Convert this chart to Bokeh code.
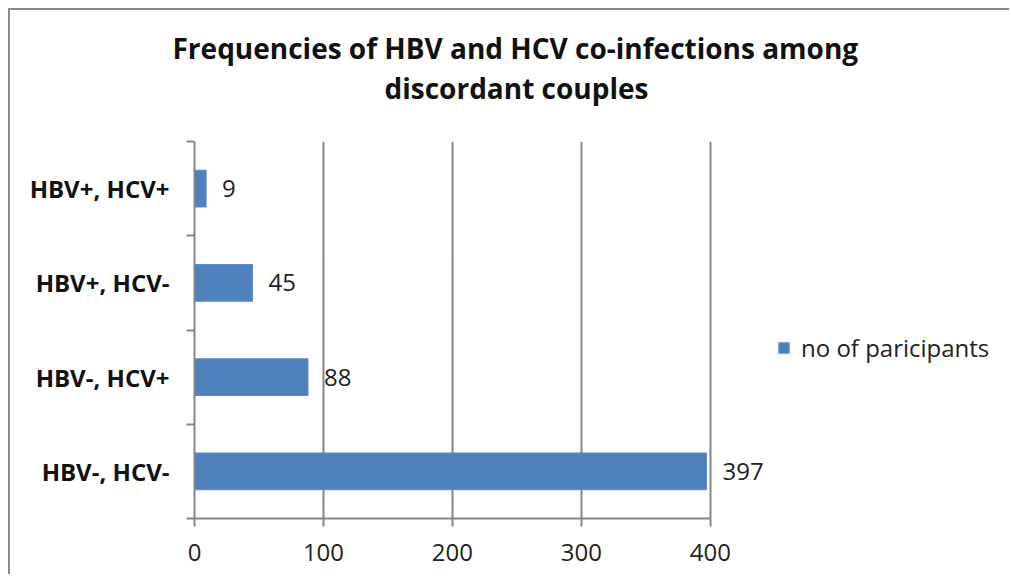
from bokeh.plotting import figure
from bokeh.models import (ColumnDataSource, FixedTicker, Title, Legend, LegendItem,
                          LabelSet, Range1d)
from bokeh.core.properties import value
from bokeh.embed import file_html
from bokeh.resources import INLINE

categories = ["HBV-, HCV-", "HBV-, HCV+", "HBV+, HCV-", "HBV+, HCV+"]
values = [397, 88, 45, 9]
x_ticks = [0, 100, 200, 300, 400]
series_name = "no of paricipants"

pos = [i + 0.5 for i in range(len(categories))]
src = ColumnDataSource(dict(y=pos, v=values, lbl=[str(v) for v in values], cat=categories))

GRAY = "#868686"
FONT = "Open Sans"

p = figure(width=1001, height=566, output_backend="svg", toolbar_location=None,
           x_range=Range1d(0, 625), y_range=Range1d(0, len(categories)),
           min_border_left=184, min_border_right=11, min_border_top=131, min_border_bottom=58)
p.styles = {"margin-left": "8px", "margin-top": "8px",
            "border-top": "2px solid #898989", "border-left": "2px solid #898989"}
p.outline_line_color = None
p.background_fill_color = "white"
p.border_fill_color = "white"

r = p.hbar(y="y", right="v", left=0, height=0.39, source=src,
           fill_color="#4F81BD", line_color="#5B8CC6", line_width=1)

labels = LabelSet(x="v", y="y", text="lbl", source=src, x_offset=16,
                  text_baseline="middle", text_align="left",
                  text_font=value(FONT), text_font_size=value("24px"), text_color="#222222")
p.add_layout(labels)

# x axis
p.xaxis.ticker = FixedTicker(ticks=x_ticks)
p.xaxis.bounds = (0, 400)
p.xaxis.axis_line_color = GRAY
p.xaxis.axis_line_width = 2
p.xaxis.major_tick_line_color = GRAY
p.xaxis.major_tick_line_width = 2
p.xaxis.major_tick_in = 0
p.xaxis.major_tick_out = 8
p.xaxis.minor_tick_line_color = None
p.xaxis.major_label_text_font = FONT
p.xaxis.major_label_text_font_size = "24px"
p.xaxis.major_label_text_color = "#222222"
p.xaxis.major_label_standoff = 17

# y axis
p.yaxis.ticker = FixedTicker(ticks=pos, minor_ticks=list(range(len(categories) + 1)))
p.yaxis.major_label_overrides = {pp: c for pp, c in zip(pos, categories)}
p.yaxis.axis_line_color = GRAY
p.yaxis.axis_line_width = 2
p.yaxis.major_tick_line_color = None
p.yaxis.minor_tick_line_color = GRAY
p.yaxis.minor_tick_line_width = 2
p.yaxis.minor_tick_in = 0
p.yaxis.minor_tick_out = 8
p.yaxis.major_label_text_font = FONT
p.yaxis.major_label_text_font_style = "bold"
p.yaxis.major_label_text_font_size = "24px"
p.yaxis.major_label_text_color = "#111111"
p.yaxis.major_label_standoff = 17

# grid
p.ygrid.grid_line_color = None
p.xgrid.ticker = FixedTicker(ticks=x_ticks)
p.xgrid.grid_line_color = GRAY
p.xgrid.grid_line_width = 2

# legend
legend = Legend(items=[LegendItem(label=series_name, renderers=[r])],
                location=(583, 154), orientation="vertical",
                label_text_font=FONT, label_text_font_size="24px", label_text_color="#222222",
                glyph_width=13, glyph_height=13, label_standoff=11,
                padding=0, margin=0, border_line_color=None, background_fill_alpha=0)
p.add_layout(legend, "center")

# titles (spacer first, nearest the plot area)
spacer = Title(text=" ", text_font=FONT, text_font_size="24px", standoff=0)
t2 = Title(text="discordant couples", align="left", offset=190,
           text_font=FONT, text_font_size="28px", text_font_style="bold", text_color="#111111",
           standoff=0)
t1 = Title(text="Frequencies of HBV and HCV co-infections among", align="left", offset=-22,
           text_font=FONT, text_font_size="28px", text_font_style="bold", text_color="#111111",
           standoff=0)
p.add_layout(spacer, "above")
p.add_layout(t2, "above")
p.add_layout(t1, "above")

open("out.html", "w").write(file_html(p, INLINE))
